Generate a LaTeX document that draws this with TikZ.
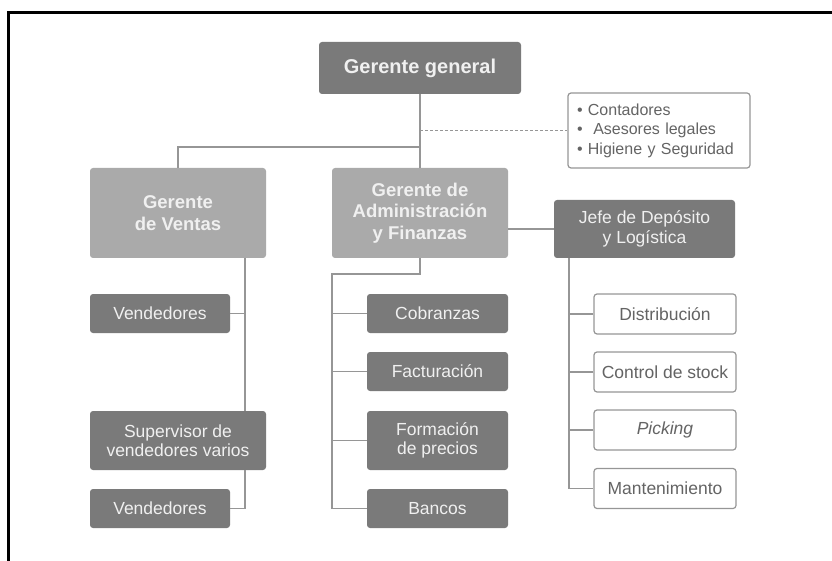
\documentclass[tikz,border=0pt]{standalone}
\usepackage{fontspec}
\setmainfont{Liberation Sans}
\definecolor{boxdark}{RGB}{122,122,122}
\definecolor{boxlight}{RGB}{170,170,170}
\definecolor{linegray}{RGB}{150,150,150}
\definecolor{textgray}{RGB}{100,100,100}
\tikzset{
	unit/.style={rounded corners=3pt, align=center, inner sep=0pt, font=\fontsize{17.5}{19.5}\selectfont},
	darkunit/.style={unit, fill=boxdark, text=white!94!black},
	lightunit/.style={unit, fill=boxlight, text=white!94!black, font=\bfseries\fontsize{18.5}{21.5}\selectfont},
	whiteunit/.style={unit, draw=linegray, line width=1.2pt, fill=white, text=textgray},
	conn/.style={draw=linegray, line width=1.4pt},
	dashconn/.style={draw=linegray, line width=1.2pt, dash pattern=on 2.5pt off 2.5pt},
}
\begin{document}
\begin{tikzpicture}[x=1pt,y=-1pt]
		\useasboundingbox (0,0) rectangle (832,561);
		\draw[line width=2.2pt] (8.5,561) -- (8.5,12.5) -- (832,12.5);
		%%%
		\node[darkunit, minimum width=202pt, minimum height=52pt, font=\bfseries\fontsize{20}{22}\selectfont] (gg) at (420,68) {Gerente general};
		\node[whiteunit, minimum width=182pt, minimum height=75pt, align=left, text width=164pt, font=\fontsize{16}{19.5}\selectfont] (ext) at (659,130.5) {• Contadores\\•\ \ Asesores legales\\• Higiene y Seguridad};
		%%%
		\node[lightunit, minimum width=176pt, minimum height=90pt] (ventas) at (178,213) {Gerente\\de Ventas};
		\node[lightunit, minimum width=176pt, minimum height=90pt] (admin) at (420,213) {Gerente de\\Administración\\y Finanzas};
		\node[darkunit, minimum width=181pt, minimum height=58pt] (jefe) at (644.5,229) {Jefe de Depósito\\y Logística};
		%%%
		\node[darkunit, minimum width=140pt, minimum height=39pt] (vend1) at (160,313.5) {Vendedores};
		\node[darkunit, minimum width=176pt, minimum height=59pt] (sup) at (178,440.5) {Supervisor de\\vendedores varios};
		\node[darkunit, minimum width=140pt, minimum height=39pt] (vend2) at (160,508.5) {Vendedores};
		%%%
		\node[darkunit, minimum width=141pt, minimum height=39pt] (cob) at (437.5,313.5) {Cobranzas};
		\node[darkunit, minimum width=141pt, minimum height=39pt] (fac) at (437.5,371.5) {Facturación};
		\node[darkunit, minimum width=141pt, minimum height=59pt] (form) at (437.5,440.5) {Formación\\de precios};
		\node[darkunit, minimum width=141pt, minimum height=39pt] (ban) at (437.5,508.5) {Bancos};
		%%%
		\node[whiteunit, minimum width=142pt, minimum height=40pt] (dist) at (665,314) {Distribución};
		\node[whiteunit, minimum width=142pt, minimum height=40pt] (ctrl) at (665,372) {Control de stock};
		\node[whiteunit, minimum width=142pt, minimum height=40pt] (pick) at (665,430) {\itshape Picking};
		\node[whiteunit, minimum width=142pt, minimum height=40pt] (mant) at (665,488.5) {Mantenimiento};
		%%%
		\coordinate (split) at (420,147);
		\coordinate (vx) at (245,258);
		\coordinate (ax) at (332,274);
		\coordinate (jx) at (569,258);
		%%%
		\draw[conn] (gg.south) -- (admin.north);
		\draw[dashconn] (ext.west -| gg.south) -- (ext.west);
		\draw[conn] (split) -| (ventas.north);
		\draw[conn] (jefe.west -| admin.east) -- (jefe.west);
		%%%
		\draw[conn] (vx) -- (vx |- sup.north);
		\draw[conn] (vend1.east) -- (vend1.east -| vx);
		\draw[conn] (sup.south -| vx) |- (vend2.east);
		%%%
		\draw[conn] (admin.south) |- (ax) |- (ban.west);
		\draw[conn] (cob.west) -- (cob.west -| ax);
		\draw[conn] (fac.west) -- (fac.west -| ax);
		\draw[conn] (form.west) -- (form.west -| ax);
		%%%
		\draw[conn] (jx) |- (mant.west);
		\draw[conn] (dist.west) -- (dist.west -| jx);
		\draw[conn] (ctrl.west) -- (ctrl.west -| jx);
		\draw[conn] (pick.west) -- (pick.west -| jx);
	\end{tikzpicture}
\end{document}
